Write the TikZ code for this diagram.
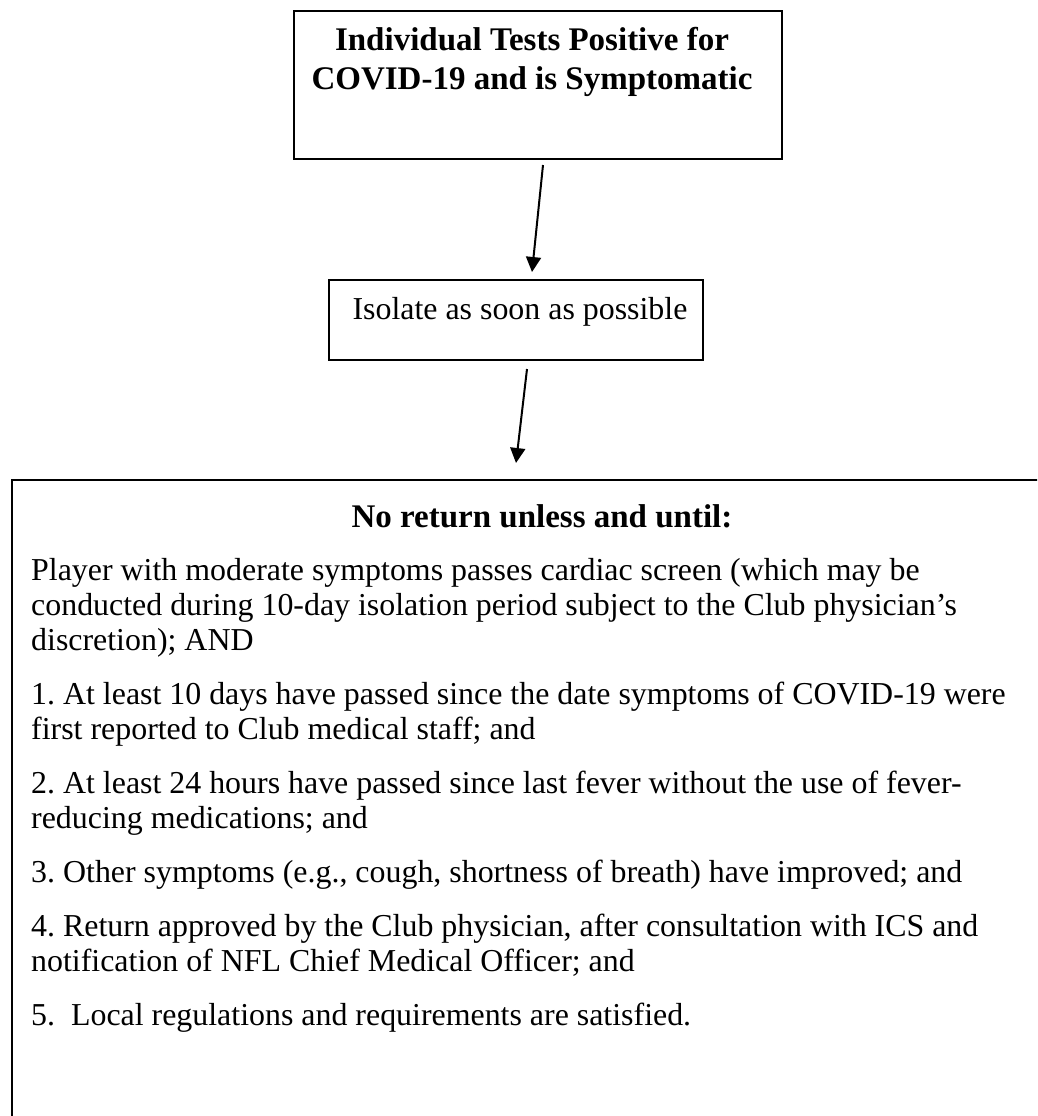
\documentclass[tikz,border=0pt]{standalone}
\usepackage{fontspec}
\setmainfont{Liberation Serif}
\usetikzlibrary{arrows.meta}
\frenchspacing
\begin{document}
\begin{tikzpicture}[x=1pt,y=-1pt,
  boxst/.style={draw=black,line width=2pt,inner sep=0pt},
  arr/.style={line width=2pt,-{Triangle[length=15pt,width=15pt]}},
  body/.style={inner sep=0pt,anchor=base west,font=\fontsize{31.9}{35}\selectfont},
  head/.style={inner sep=0pt,anchor=base,font=\fontsize{33}{40}\selectfont\bfseries},
  plain/.style={inner sep=0pt,anchor=base,font=\fontsize{31.9}{35}\selectfont}]
\useasboundingbox (0,0) rectangle (1037,1116);
\clip (0,0) rectangle (1037,1116);
% boxes
\node[boxst,anchor=north west,minimum width=488pt,minimum height=148pt] (b1) at (293,10) {};
\node[boxst,anchor=north west,minimum width=374pt,minimum height=80pt] (b2) at (328,279) {};
\node[boxst,anchor=north west,minimum width=1100pt,minimum height=700pt] (b3) at (11,479) {};
% texts
\node[head] (h1) at (532,51) {Individual Tests Positive for};
\node[head] (h2) at (532,89) {COVID-19 and is Symptomatic};
\node[plain] (i1) at (520,319) {Isolate as soon as possible};
\node[head] (h3) at (542,527) {No return unless and until:};
\node[body] (l1) at (31,580) {Player with moderate symptoms passes cardiac screen (which may be};
\node[body] (l2) at (31,615) {conducted during 10-day isolation period subject to the Club physician’s};
\node[body] (l3) at (31,650) {discretion); AND};
\node[body] (l4) at (31,704) {1. At least 10 days have passed since the date symptoms of COVID-19 were};
\node[body] (l5) at (31,739) {first reported to Club medical staff; and};
\node[body] (l6) at (31,793) {2. At least 24 hours have passed since last fever without the use of fever-};
\node[body] (l7) at (31,828) {reducing medications; and};
\node[body] (l8) at (31,882) {3. Other symptoms (e.g., cough, shortness of breath) have improved; and};
\node[body] (l9) at (31,936) {4. Return approved by the Club physician, after consultation with ICS and};
\node[body] (l10) at (31,971) {notification of NFL Chief Medical Officer; and};
\node[body] (l11) at (31,1025) {5.\ \ Local regulations and requirements are satisfied.};
% arrows
\coordinate (t1) at (532,272);
\coordinate (t2) at (516,463);
\draw[arr] ([xshift=5pt,yshift=-5pt]b1.south) -- (t1);
\draw[arr] ([xshift=11pt,yshift=-8pt]b2.south) -- (t2);
\end{tikzpicture}
\end{document}
